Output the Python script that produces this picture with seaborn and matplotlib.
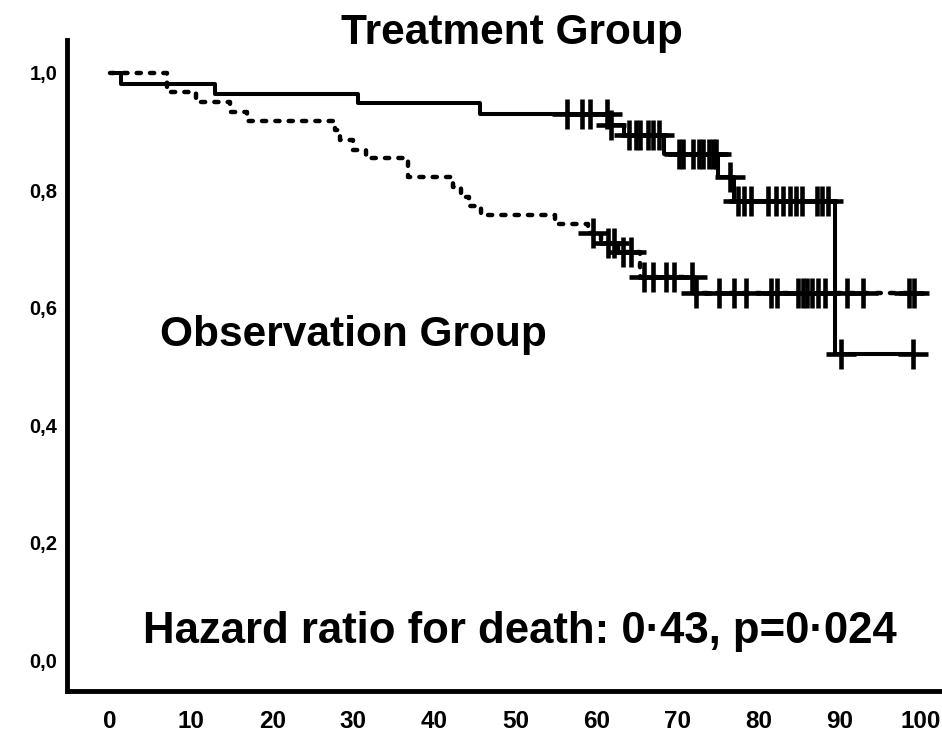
import numpy as np
import pandas as pd
import matplotlib
matplotlib.use("Agg")
import matplotlib.pyplot as plt
import seaborn as sns

# ---------------- data ----------------
# Treatment group (solid): event times and survival after each event
treat_times = [1.4, 13.0, 30.6, 45.6, 61.6, 63.4, 68.3, 75.0, 76.9, 89.4]
treat_surv = [0.982, 0.965, 0.948, 0.930, 0.912, 0.895, 0.862, 0.823, 0.782, 0.522]
treat_censor = [56.4, 58.2, 59.2, 61.3, 61.8, 64.0, 64.8, 65.4, 66.3, 67.0, 67.7,
                70.1, 70.7, 71.9, 72.6, 73.1, 73.8, 74.3, 74.7, 76.5,
                77.4, 78.2, 79.0, 81.1, 82.1, 83.0, 83.8, 84.6, 85.3, 87.2, 87.8, 88.5,
                90.1, 99.0]

# Observation group (dashed)
obs_times = [7.0, 10.6, 14.8, 16.9, 27.8, 28.3, 29.9, 31.5, 36.8, 42.3, 43.3, 44.3,
             45.8, 54.9, 58.9, 60.5, 62.6, 65.4, 72.0]
obs_surv = [0.967, 0.951, 0.934, 0.918, 0.902, 0.885, 0.869, 0.855, 0.822, 0.806,
            0.789, 0.774, 0.758, 0.742, 0.727, 0.711, 0.695, 0.653, 0.625]
obs_censor = [59.5, 61.4, 62.1, 63.2, 64.2, 65.8, 67.0, 68.5, 69.5, 71.7,
              72.3, 75.1, 76.9, 78.4, 81.5, 82.3, 84.8, 85.4, 86.0, 86.6, 87.3, 88.1,
              90.9, 92.8, 98.5, 99.1]

x_ticks = [0, 10, 20, 30, 40, 50, 60, 70, 80, 90, 100]
y_ticks = [0.0, 0.2, 0.4, 0.6, 0.8, 1.0]
y_tick_labels = ["0,0", "0,2", "0,4", "0,6", "0,8", "1,0"]

title_text = "Treatment Group"
obs_label = "Observation Group"
hazard_text = "Hazard ratio for death: 0\u00b743, p=0\u00b7024"


def step_frame(times, surv, censor):
    end = max(max(censor), max(times))
    t = [0.0] + list(times) + [end]
    s = [1.0] + list(surv) + [surv[-1]]
    return pd.DataFrame({"time": t, "survival": s})


def censor_frame(times, surv, censor):
    idx = np.searchsorted(np.array(times), np.array(censor), side="right") - 1
    levels = np.where(idx >= 0, np.array(surv)[np.clip(idx, 0, None)], 1.0)
    return pd.DataFrame({"time": censor, "survival": levels})


# ---------------- style ----------------
sns.set_theme(style="white")
plt.rcParams["font.family"] = ["Liberation Sans", "DejaVu Sans"]
plt.rcParams["lines.scale_dashes"] = False
for key in ("text.color", "axes.labelcolor", "xtick.color", "ytick.color",
            "axes.edgecolor"):
    plt.rcParams[key] = "black"

fig = plt.figure(figsize=(9.42, 7.36), dpi=100)
ax = fig.add_axes([0.0711, 0.0611, 0.9279, 0.8846])

# spine layout first (set_position resets tick properties)
for side in ("top", "right"):
    ax.spines[side].set_visible(False)
ax.spines["left"].set_linewidth(3.5)
ax.spines["left"].set_color("black")
ax.spines["bottom"].set_position(("outward", 3.6))
ax.spines["bottom"].set_visible(False)

t_line = step_frame(treat_times, treat_surv, treat_censor)
o_line = step_frame(obs_times, obs_surv, obs_censor)

sns.lineplot(data=t_line, x="time", y="survival", estimator=None, sort=False,
             drawstyle="steps-post", color="black", linewidth=2.9,
             solid_capstyle="butt", ax=ax, legend=False)
sns.lineplot(data=o_line, x="time", y="survival", estimator=None, sort=False,
             drawstyle="steps-post", color="black", linewidth=3.2,
             linestyle=(0, (3.0, 6.6)), dash_capstyle="round", ax=ax, legend=False)

for cen in (censor_frame(treat_times, treat_surv, treat_censor),
            censor_frame(obs_times, obs_surv, obs_censor)):
    sns.scatterplot(data=cen, x="time", y="survival", marker="+", s=450,
                    color="black", linewidth=3.3, ax=ax, legend=False, zorder=3)

ax.plot([0, 1], [0, 0], transform=ax.transAxes, color="black", linewidth=3.5,
        clip_on=False, solid_capstyle="projecting")

ax.set_xlim(-5.31, 102.47)
ax.set_ylim(-0.0528, 1.0562)
ax.tick_params(axis="x", direction="out", length=8, width=2.2, pad=2, color="black")
ax.tick_params(axis="y", direction="out", length=5.5, width=2.2, pad=1.5, color="black")
ax.set_xticks(x_ticks)
ax.set_xticklabels([str(v) for v in x_ticks], fontsize=17.5, fontweight="bold",
                   color="black")
ax.set_yticks(y_ticks)
ax.set_yticklabels(y_tick_labels, fontsize=14.5, fontweight="bold", color="black")
ax.set_xlabel("")
ax.set_ylabel("")
ax.grid(False)

ax.text(49.6, 1.068, title_text, ha="center", va="center", fontsize=30.5,
        fontweight="bold", color="black", clip_on=False)
ax.text(6.2, 0.554, obs_label, ha="left", va="center", fontsize=30.5,
        fontweight="bold", color="black")
ax.text(50.5, 0.048, hazard_text, ha="center", va="center", fontsize=31.5,
        fontweight="bold", color="black")

fig.savefig("out.png", dpi=100)
